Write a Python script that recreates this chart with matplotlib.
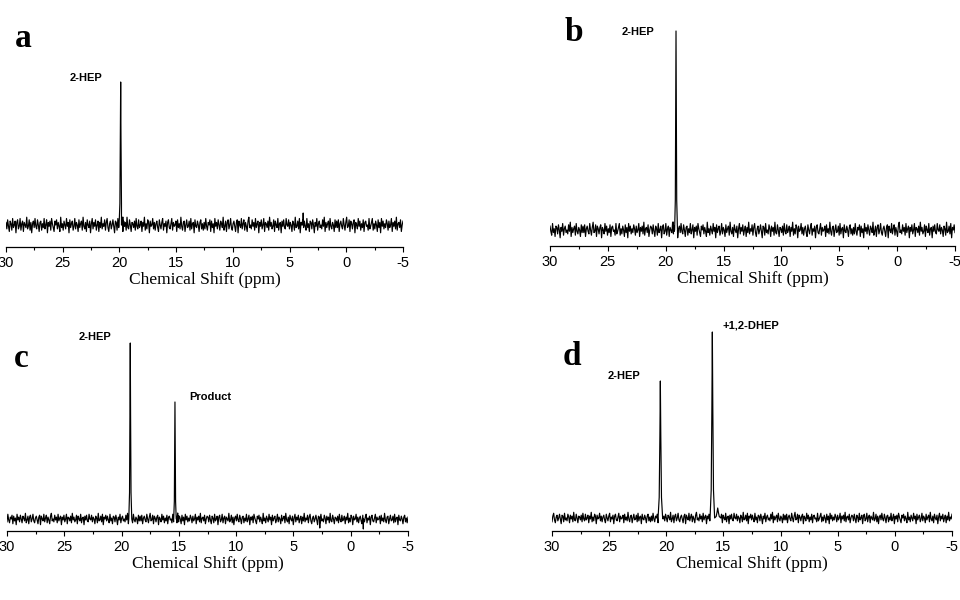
import numpy as np
import matplotlib
matplotlib.use("Agg")
import matplotlib.pyplot as plt

plt.rcParams['axes.unicode_minus'] = False

# 31P NMR spectra, intensities in arbitrary units
panels = ['a', 'b', 'c', 'd']
baselines = [22, 16, 12, 13]
noise_scale = [1.3, 1.3, 0.95, 0.95]
noise_shift = [0, 120, 240, 360]

# peaks: (shift ppm, height above baseline, half width ppm)
peaks = {
    'a': [(19.89, 143, 0.14), (19.7, 8, 0.12), (3.8, 12, 0.03)],
    'b': [(19.11, 199, 0.12), (19.35, 8, 0.1)],
    'c': [(19.24, 176, 0.13), (15.34, 117, 0.11), (15.1, 6, 0.1),
          (2.7, -9, 0.03), (-1.1, -10, 0.03)],
    'd': [(20.52, 137, 0.2), (15.97, 186, 0.2), (15.5, 10, 0.27)],
}

# peak labels: (text, shift ppm, intensity)
peak_labels = {
    'a': [('2-HEP', 24.36, 169)],
    'b': [('2-HEP', 23.78, 214)],
    'c': [('2-HEP', 23.72, 194), ('Product', 14.11, 134)],
    'd': [('2-HEP', 25.1, 155), ('+1,2-DHEP', 15.04, 206)],
}

# hand-estimated baseline noise
baseline_noise = [
    2, -3, 4, -1, -5, 3, 1, -4, 5, -2, 0, 3, -6, 2, 4, -3, -1, 5, -4, 1,
    3, -5, 2, 0, -2, 6, -3, -1, 4, -4, 2, -6, 1, 3, -2, 5, -1, -3, 4, 0,
    -5, 2, 3, -4, 1, -2, 5, -3, 0, 4, -6, 2, -1, 3, -4, 5, 1, -2, -5, 3,
    0, 4, -3, 2, -1, -5, 6, -2, 1, -4, 3, 0, -3, 5, -1, 2, -6, 4, -2, 1,
    3, -4, -1, 5, -3, 2, 0, -5, 4, -2, 1, 3, -4, 6, -1, -3, 2, -5, 4, 0,
    -2, 3, -6, 1, 5, -3, 2, -1, 4, -4, 0, 3, -5, 2, -2, 6, -3, 1, -1, 4,
    -4, 2, 5, -2, -5, 1, 3, -3, 0, 4, -1, -6, 3, 2, -4, 5, -2, 0, -3, 4,
    1, -5, 3, -1, 2, -4, 6, -2, -3, 4, 0, -5, 2, 1, -2, 3, -4, 5, -1, -3,
    4, -2, 0, 3, -5, 2, -1, 6, -4, 1, -3, 4, 2, -6, 3, -1, 0, 5, -3, 2,
    -4, 1, 3, -2, -5, 4, 0, -3, 2, 5, -4, 1, -1, 3, -6, 2, 4, -2, -3, 1,
    5, -4, 2, -1, 0, 3, -5, 4, -2, 1, -3, 6, -1, -4, 2, 3, -5, 0, 4, -2,
    -1, 3, -4, 5, -3, 1, 2, -6, 4, -1, -2, 3, 0, -5, 2, 4, -3, 1, -4, 2,
    -3, 5, -1, -4, 2, 0, 4, -5, 3, -2, 1, -6, 5, -1, 2, -3, 4, 0, -4, 3,
    1, -2, 6, -4, -1, 3, -5, 2, 4, -3, 0, 5, -2, -4, 1, 3, -1, -5, 2, 4,
    -6, 3, 0, -2, 5, -3, 1, 4, -4, 2, -1, -5, 3, 6, -2, 0, -3, 4, -1, 2,
    -4, 5, -2, 1, 3, -6, 2, -1, 4, -3, 0, 5, -5, 2, 1, -2, 3, -4, 6, -1,
    2, -3, -1, 4, -5, 3, 0, -2, 5, -4, 1, 2, -6, 3, -1, 4, -2, -3, 5, 0,
    -1, 4, -3, 2, 0, -5, 3, 1, -4, 6, -2, -1, 3, -3, 5, -6, 2, 0, 4, -2,
    3, -1, -4, 5, -2, 1, -5, 3, 2, -3, 4, 0, -6, 2, -1, 5, -4, 1, 3, -2,
    0, -3, 4, -1, 6, -5, 2, -2, 1, 3, -4, 5, -1, -3, 2, 0, -5, 4, -2, 3,
    -2, 4, -5, 1, 3, -1, -3, 5, 0, -4, 2, 6, -2, -1, 4, -5, 3, 1, -3, 2,
    4, -6, 2, 0, -3, 5, -1, 3, -4, 1, -2, 4, -5, 2, 3, -1, 0, -4, 5, -3,
    -1, 2, 5, -4, 1, -3, 3, 0, -5, 4, -2, 2, -6, 5, -1, 3, -3, 1, -2, 4,
    1, -4, 3, -2, 0, 5, -5, 2, -1, 3, -3, 6, -4, 1, 2, -2, 4, -5, 0, 3,
]

# peak profile (offset in half widths, fraction of height)
profile_offsets = [-1.0, -0.5, -0.2, 0.0, 0.2, 0.5, 1.0]
profile_heights = [0.0, 0.15, 0.6, 1.0, 0.6, 0.15, 0.0]

# axes extents in pixels: left, right, spine y, top y
boxes = {
    'a': (6, 403, 247, 10),
    'b': (550, 955, 246, 10),
    'c': (7, 408, 531, 310),
    'd': (552, 952, 531, 310),
}
letter_pos = {'a': (15, 47), 'b': (565, 41), 'c': (14, 367), 'd': (563, 365)}

fig = plt.figure(figsize=(9.6, 6), dpi=100)
W, H = 960, 600

for i, p in enumerate(panels):
    l, r, sy, ty = boxes[p]
    ax = fig.add_axes([l / W, 1 - sy / H, (r - l) / W, (sy - ty) / H])

    x = np.linspace(30, -5, len(baseline_noise))
    y = baselines[i] + noise_scale[i] * np.roll(baseline_noise, noise_shift[i])
    keep = np.ones(len(x), dtype=bool)
    px, py = [], []
    for pos, h, w in peaks[p]:
        if abs(h) >= 10 and w > 0.05:
            keep &= np.abs(x - pos) > w
        for o, f in zip(profile_offsets, profile_heights):
            px.append(pos + o * w)
            py.append(baselines[i] + f * h)
    xs = np.concatenate([x[keep], px])
    ys = np.concatenate([y[keep], py])
    order = np.argsort(-xs, kind='stable')
    ax.plot(xs[order], ys[order], color='black', lw=0.85)

    for txt, tx, tyv in peak_labels[p]:
        ax.text(tx, tyv, txt, fontsize=8, fontweight='bold',
                family='Liberation Sans', ha='left', va='center')

    ax.set_xlim(30, -5)
    ax.set_ylim(0, sy - ty)
    for s in ['left', 'right', 'top']:
        ax.spines[s].set_visible(False)
    ax.spines['bottom'].set_linewidth(0.9)
    ax.set_yticks([])
    ax.set_xticks([30, 25, 20, 15, 10, 5, 0, -5])
    ax.set_xticks([27.5, 22.5, 17.5, 12.5, 7.5, 2.5, -2.5], minor=True)
    ax.tick_params(axis='x', which='major', length=3.6, width=0.8, pad=3,
                   labelsize=10.5)
    ax.tick_params(axis='x', which='minor', length=2.2, width=0.8)
    for lab in ax.get_xticklabels():
        lab.set_family('Liberation Sans')
    ax.set_xlabel('Chemical Shift (ppm)', family='Liberation Serif',
                  fontsize=12.5, labelpad=1.5)
    ax.patch.set_alpha(0)

    lx, ly = letter_pos[p]
    fig.text(lx / W, 1 - ly / H, p, family='Liberation Serif',
             fontweight='bold', fontsize=24, ha='left', va='baseline')

fig.savefig('out.png', dpi=100)
